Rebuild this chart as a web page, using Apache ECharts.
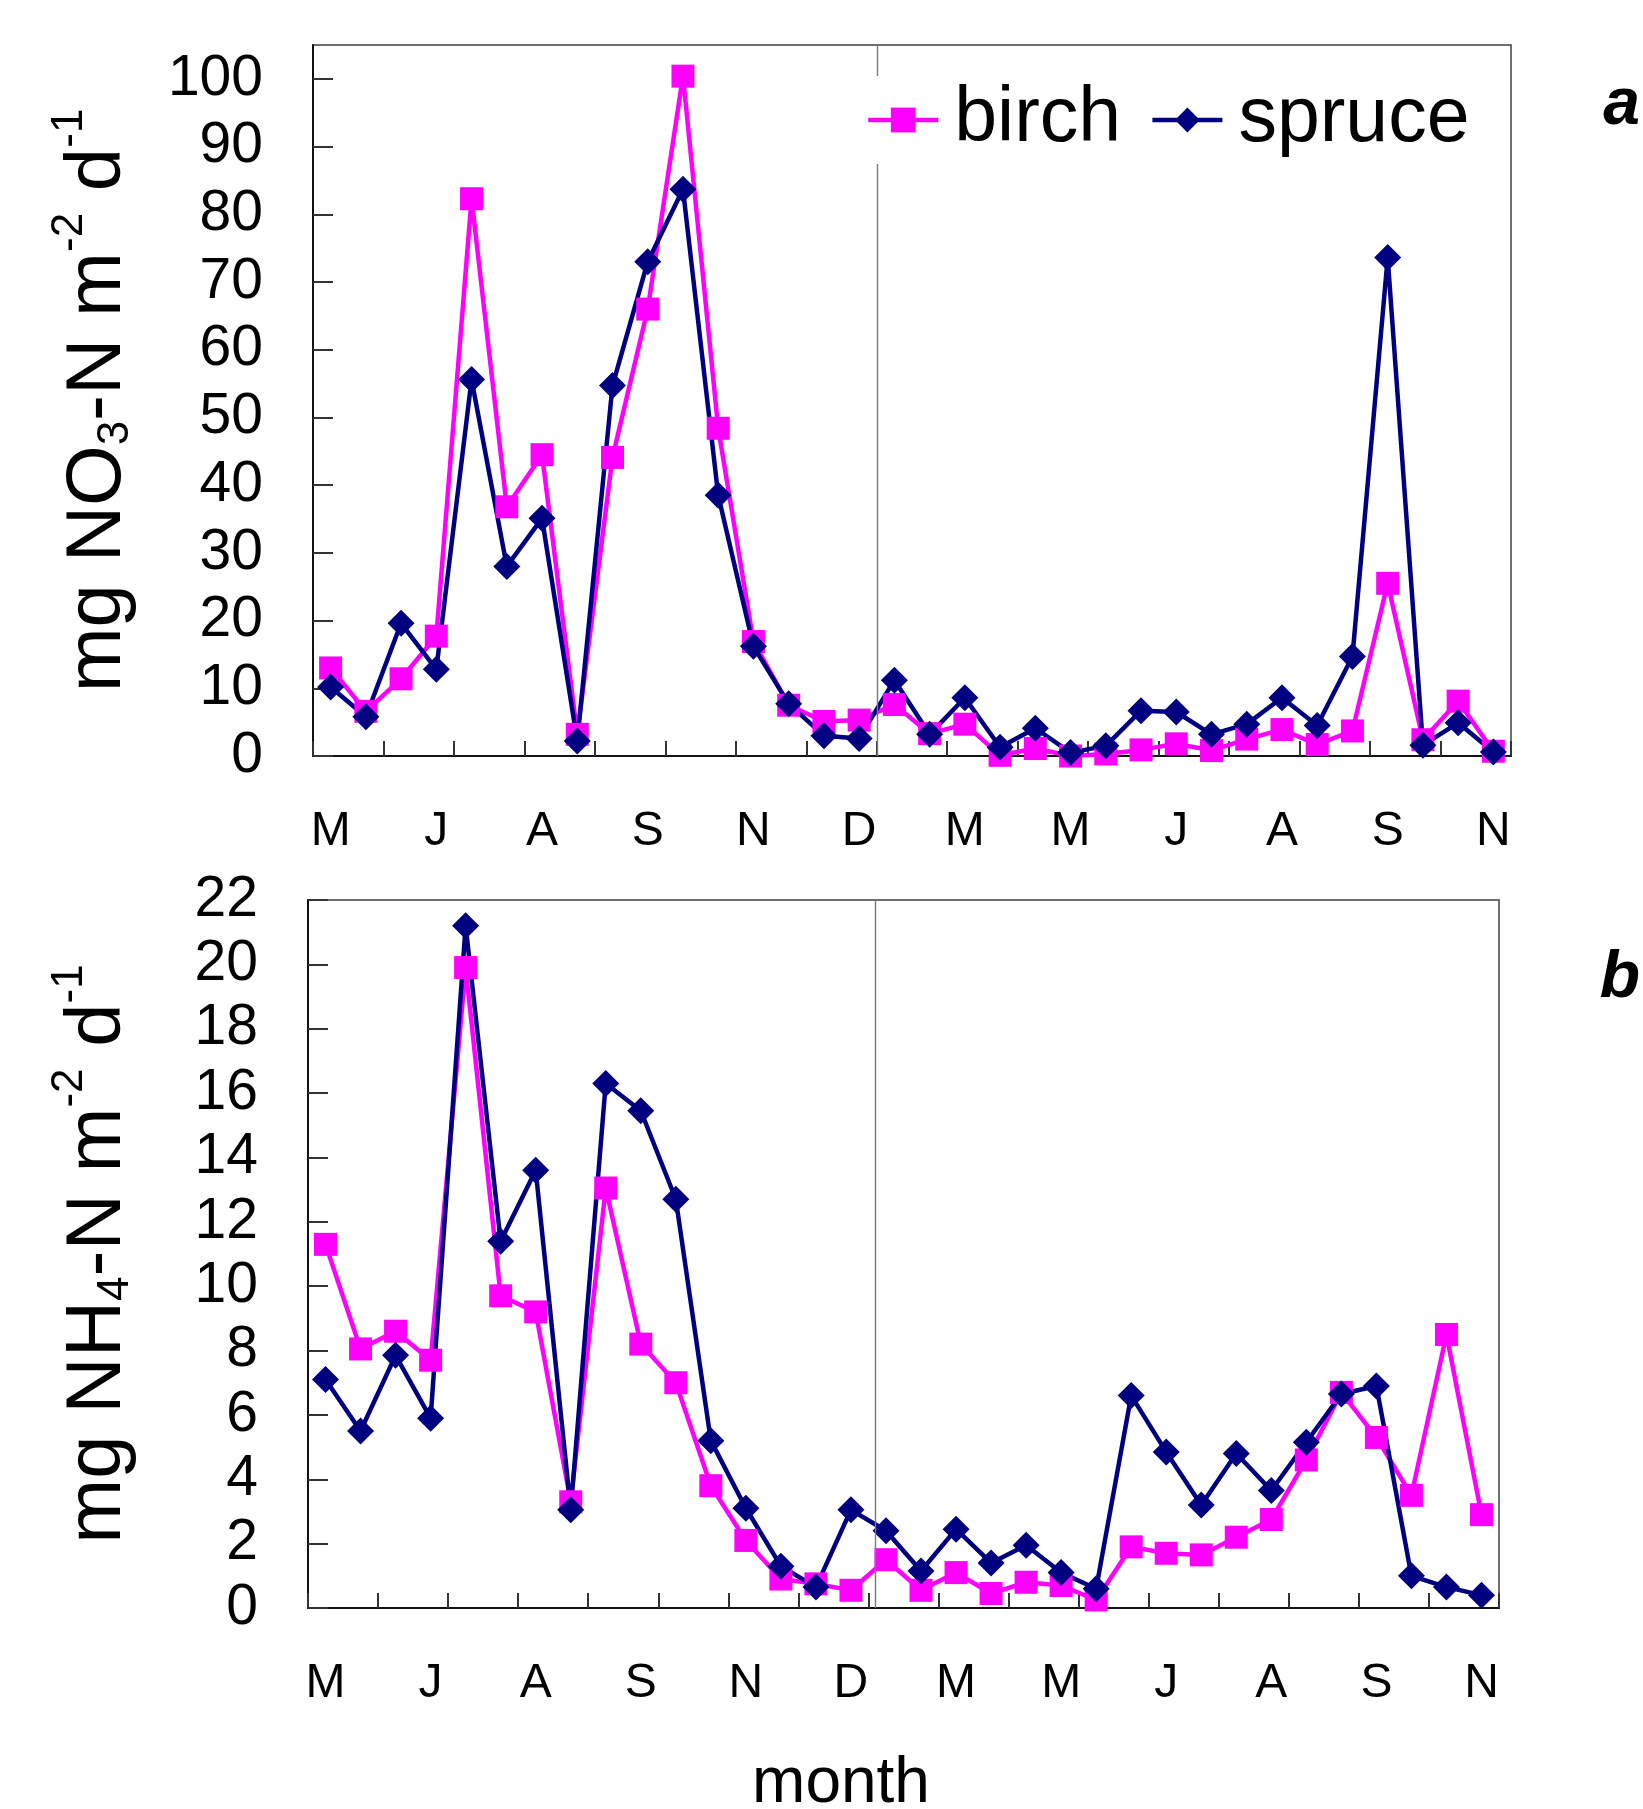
<!DOCTYPE html>
<html>
<head>
<meta charset="utf-8">
<script src="https://cdn.jsdelivr.net/npm/echarts@6/dist/echarts.min.js"></script>
<style>
html,body{margin:0;padding:0;background:#ffffff;}
#c{width:1643px;height:1809px;}
</style>
</head>
<body>
<div id="c"></div>
<script>
// ---- data ----
const categories = ['1','2','3','4','5','6','7','8','9','10','11','12','13','14','15','16','17',
  '18','19','20','21','22','23','24','25','26','27','28','29','30','31','32','33','34'];
const monthLabels = ['M','J','A','S','N','D','M','M','J','A','S','N'];

const no3Birch  = [13.0, 6.6, 11.4, 17.7, 82.3, 36.8, 44.5, 3.2, 44.1, 66.0, 100.4, 48.4, 16.9, 7.5, 5.1, 5.3, 7.6,
  3.3, 4.7, 0.1, 1.1, 0.0, 0.3, 0.9, 1.8, 0.8, 2.5, 3.9, 1.7, 3.7, 25.5, 2.4, 8.1, 0.7];
const no3Spruce = [10.2, 5.8, 19.6, 12.8, 55.6, 28.0, 35.1, 2.2, 54.7, 73.0, 83.7, 38.5, 16.2, 7.7, 3.0, 2.6, 11.2,
  3.2, 8.6, 1.3, 4.1, 0.5, 1.5, 6.7, 6.5, 3.2, 4.7, 8.6, 4.5, 14.7, 73.6, 1.6, 4.9, 0.6];

const nh4Birch  = [11.3, 8.05, 8.6, 7.7, 19.9, 9.7, 9.2, 3.3, 13.05, 8.2, 7.0, 3.8, 2.1, 0.9, 0.75, 0.55, 1.5,
  0.55, 1.1, 0.45, 0.8, 0.7, 0.25, 1.9, 1.7, 1.65, 2.2, 2.75, 4.6, 6.7, 5.3, 3.5, 8.5, 2.9];
const nh4Spruce = [7.1, 5.5, 7.85, 5.9, 21.2, 11.4, 13.6, 3.05, 16.3, 15.45, 12.7, 5.2, 3.1, 1.3, 0.65, 3.05, 2.4,
  1.15, 2.45, 1.4, 1.95, 1.1, 0.6, 6.6, 4.85, 3.2, 4.8, 3.65, 5.15, 6.65, 6.9, 1.0, 0.65, 0.4];

const yTicksA = [0, 10, 20, 30, 40, 50, 60, 70, 80, 90, 100];
const yTicksB = [0, 2, 4, 6, 8, 10, 12, 14, 16, 18, 20, 22];

// ---- styling ----
const FONT = '"Liberation Sans", Arial, Helvetica, sans-serif';
const BIRCH = '#ff00ff';
const SPRUCE = '#000080';

function xAxisCfg(gridIndex) {
  return {
    type: 'category', gridIndex: gridIndex, data: categories, boundaryGap: true,
    axisLine: { show: true, onZero: false, lineStyle: { color: '#111', width: 2 } },
    axisTick: { show: true, inside: true, interval: 1, length: 15, lineStyle: { color: '#333', width: 2 } },
    axisLabel: {
      interval: 2, margin: 52, fontSize: 48, color: '#000', fontFamily: FONT,
      formatter: function (v, i) { return monthLabels[Math.round(i / 3)]; }
    },
    splitLine: { show: false }
  };
}

// hidden linear helper axis spanning the category slots (used only for the year divider)
function helperAxis(gridIndex) {
  return { type: 'value', gridIndex: gridIndex, min: 0, max: categories.length, show: false,
    axisLine: { show: false }, axisTick: { show: false }, axisLabel: { show: false }, splitLine: { show: false } };
}

function nameStyle() {
  return {
    fontFamily: FONT, color: '#000', fontSize: 78, lineHeight: 100,
    rich: {
      m:   { fontFamily: FONT, color: '#000', fontSize: 78, lineHeight: 100 },
      sup: { fontFamily: FONT, color: '#000', fontSize: 44, lineHeight: 44, verticalAlign: 'top' },
      sub: { fontFamily: FONT, color: '#000', fontSize: 44, lineHeight: 44, verticalAlign: 'bottom', padding: [0, 0, 10, 0] }
    }
  };
}

function yAxisCfg(gridIndex, max, interval, ticks, name, gap) {
  return {
    type: 'value', gridIndex: gridIndex, min: 0, max: max, interval: interval,
    axisLine: { show: true, lineStyle: { color: '#111', width: 2 } },
    axisTick: { show: true, inside: true, length: 20, lineStyle: { color: '#333', width: 2 }, customValues: ticks },
    axisLabel: {
      margin: 50, fontSize: 57, color: '#000', fontFamily: FONT, customValues: ticks,
      formatter: function (v) { return ticks.indexOf(v) >= 0 ? String(v) : ''; }
    },
    splitLine: { show: false },
    name: name, nameLocation: 'middle', nameGap: gap, nameTextStyle: nameStyle()
  };
}

function lineSeries(name, data, xi, color, symbol, size) {
  return {
    name: name, type: 'line', xAxisIndex: xi, yAxisIndex: xi, data: data,
    symbol: symbol, symbolSize: size, showSymbol: true, showAllSymbol: true,
    lineStyle: { color: color, width: 4.5 },
    itemStyle: { color: color },
    emphasis: { disabled: true },
    z: 3,
    animation: false
  };
}

function dividerSeries(xi, pos) {
  return {
    name: 'divider' + xi, type: 'line', xAxisIndex: xi + 2, yAxisIndex: xi, data: [],
    silent: true, z: 1, animation: false,
    markLine: {
      silent: true, symbol: ['none', 'none'], label: { show: false },
      lineStyle: { color: '#7a7a7a', width: 1.4, type: 'solid' },
      emphasis: { disabled: true },
      data: [{ xAxis: pos }]
    }
  };
}

const chart = echarts.init(document.getElementById('c'), null, { renderer: 'canvas' });

chart.setOption({
  backgroundColor: '#ffffff',
  animation: false,
  textStyle: { fontFamily: FONT },
  grid: [
    { left: 313, right: 132, top: 45, bottom: 1053, show: true, borderColor: '#404040', borderWidth: 1.5, outerBoundsMode: 'none', containLabel: false },
    { left: 308, right: 144, top: 900, bottom: 201, show: true, borderColor: '#404040', borderWidth: 1.5, outerBoundsMode: 'none', containLabel: false }
  ],
  xAxis: [xAxisCfg(0), xAxisCfg(1), helperAxis(0), helperAxis(1)],
  yAxis: [
    yAxisCfg(0, 105, 10, yTicksA, '{m|mg NO}{sub|3}{m|-N m}{sup|-2}{m| d}{sup|-1}', 165),
    yAxisCfg(1, 22, 2, yTicksB, '{m|mg NH}{sub|4}{m|-N m}{sup|-2}{m| d}{sup|-1}', 160)
  ],
  legend: {
    data: ['birch', 'spruce'],
    left: 860, top: 76,
    orient: 'horizontal',
    itemWidth: 70, itemHeight: 31, itemGap: 29,
    backgroundColor: '#ffffff',
    padding: [4, 6, 4, 6],
    z: 10,
    lineStyle: { width: 4.5 },
    textStyle: { fontSize: 77, color: '#000', fontFamily: FONT, lineHeight: 80, padding: [0, 0, 0, 11] },
    selectedMode: false
  },
  series: [
    dividerSeries(0, 16),
    dividerSeries(1, 16.2),
    lineSeries('birch', no3Birch, 0, BIRCH, 'rect', 23),
    lineSeries('spruce', no3Spruce, 0, SPRUCE, 'diamond', 27),
    lineSeries('birch', nh4Birch, 1, BIRCH, 'rect', 23),
    lineSeries('spruce', nh4Spruce, 1, SPRUCE, 'diamond', 27)
  ],
  graphic: [
    { type: 'text', x: 1640, y: 106, style: { text: 'a', align: 'right', verticalAlign: 'middle', fill: '#000', font: 'italic bold 66px ' + FONT } },
    { type: 'text', x: 1640, y: 979, style: { text: 'b', align: 'right', verticalAlign: 'middle', fill: '#000', font: 'italic bold 66px ' + FONT } },
    { type: 'text', x: 841, y: 1784, style: { text: 'month', align: 'center', verticalAlign: 'middle', fill: '#000', font: '64px ' + FONT } }
  ]
});
</script>
</body>
</html>
